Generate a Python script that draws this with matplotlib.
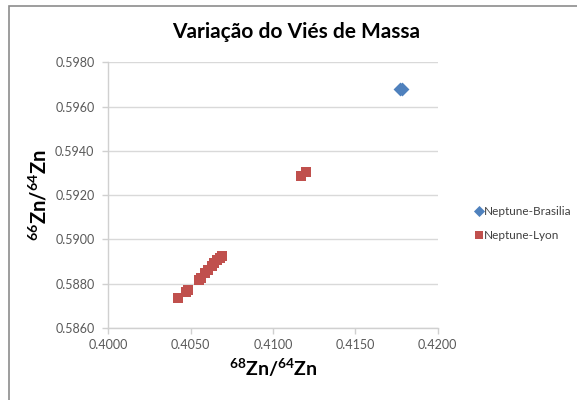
import matplotlib
matplotlib.use("Agg")
import matplotlib.pyplot as plt
from matplotlib.patches import Rectangle
from matplotlib.ticker import FormatStrFormatter

plt.rcParams['font.family'] = ['Lato', 'DejaVu Sans']
plt.rcParams['mathtext.fontset'] = 'custom'
plt.rcParams['mathtext.rm'] = 'Lato'
plt.rcParams['mathtext.bf'] = 'Lato:bold'

# Isotope ratios
brasilia_x = [0.41775, 0.41785]
brasilia_y = [0.59680, 0.59680]

lyon_x = [0.40425, 0.40474, 0.40486, 0.40553, 0.40565, 0.40590, 0.40608,
          0.40627, 0.40645, 0.40663, 0.40681, 0.40693, 0.41171, 0.41202]
lyon_y = [0.58735, 0.58764, 0.58772, 0.58818, 0.58827, 0.58850, 0.58863,
          0.58881, 0.58894, 0.58908, 0.58917, 0.58926, 0.59287, 0.59304]

x_ticks = [0.4000, 0.4050, 0.4100, 0.4150, 0.4200]
y_ticks = [0.5860, 0.5880, 0.5900, 0.5920, 0.5940, 0.5960, 0.5980]

W, H = 577, 400
fig = plt.figure(figsize=(W / 100, H / 100), dpi=100)
fig.patch.set_facecolor('white')

# outer chart frame
fig.patches.append(Rectangle((9 / W, -0.1), 1.2, 1 - 6 / H + 0.1,
                             transform=fig.transFigure, fill=False,
                             edgecolor='#8c8c8c', linewidth=1.2))

left, right = 108.3 / W, 437.5 / W
bottom, top = 1 - 328 / H, 1 - 62.3 / H
ax = fig.add_axes([left, bottom, right - left, top - bottom])

ax.scatter(brasilia_x, brasilia_y, marker='D', s=50, color='#4F81BD',
           label='Neptune-Brasilia', zorder=3, linewidths=0)
ax.scatter(lyon_x, lyon_y, marker='s', s=45, color='#C0504D',
           label='Neptune-Lyon', zorder=3, linewidths=0)

ax.set_xlim(0.4000, 0.4200)
ax.set_ylim(0.5860, 0.5980)
ax.set_xticks(x_ticks)
ax.set_yticks(y_ticks)
ax.xaxis.set_major_formatter(FormatStrFormatter('%.4f'))
ax.yaxis.set_major_formatter(FormatStrFormatter('%.4f'))
ax.grid(axis='y', color='#d9d9d9', linewidth=1)
ax.set_axisbelow(True)

for s in ['top', 'right']:
    ax.spines[s].set_visible(False)
for s in ['left', 'bottom']:
    ax.spines[s].set_color('#d0d0d0')
    ax.spines[s].set_linewidth(1)

ax.tick_params(axis='both', colors='#d0d0d0', labelcolor='#595959',
               labelsize=9, length=4, width=1)
ax.tick_params(axis='y', pad=6)
ax.tick_params(axis='x', pad=4)

ax.set_xlabel(r'$\mathbf{^{68}Zn/^{64}Zn}$', fontsize=14, color='black',
              labelpad=4)
ax.set_ylabel(r'$\mathbf{^{66}Zn/^{64}Zn}$', fontsize=14.5, color='black',
              labelpad=4)

fig.text(296 / W, 1 - 32 / H, 'Variação do Viés de Massa', ha='center',
         va='center', fontsize=15, fontweight='bold', color='black')

leg = ax.legend(loc='center left', bbox_to_anchor=(1.095, 0.395), frameon=False,
                fontsize=8.5, handletextpad=0.0, labelspacing=1.1,
                borderaxespad=0, handlelength=0.9, scatterpoints=1,
                markerscale=0.8)
for t in leg.get_texts():
    t.set_color('#404040')

fig.savefig('out.png', dpi=100)
